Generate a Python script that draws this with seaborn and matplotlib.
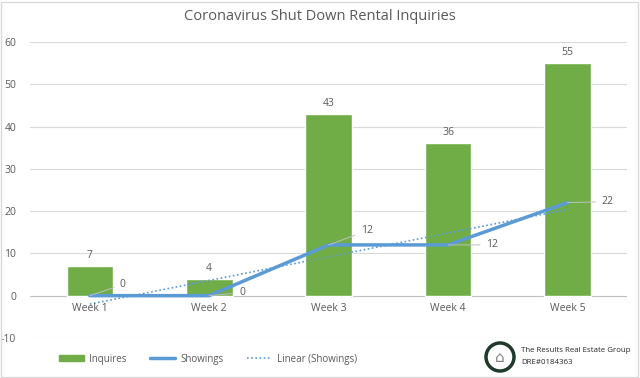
import numpy as np
import pandas as pd
import matplotlib.pyplot as plt
import seaborn as sns
from matplotlib.patches import Circle, Rectangle, Patch
from matplotlib.lines import Line2D

# chart values
weeks = ['Week 1', 'Week 2', 'Week 3', 'Week 4', 'Week 5']
inquires = [7, 4, 43, 36, 55]
showings = [0, 0, 12, 12, 22]
yticks = [-10, 0, 10, 20, 30, 40, 50, 60]

# label offsets for showings labels (pixels)
label_offsets = [(30, 11), (30, 3), (32, 14), (38, 0), (34, 1)]

green = '#70AD47'
blue = '#5B9BD5'
gray = '#595959'

sns.set_theme(style='white')
plt.rcParams['font.family'] = ['Open Sans', 'DejaVu Sans']

df = pd.DataFrame({'Week': weeks, 'Inquires': inquires, 'Showings': showings})

fig = plt.figure(figsize=(6.4, 3.78), dpi=100)
ax = fig.add_axes([0.047, 0.106, 0.933, 0.783])

sns.barplot(data=df, x='Week', y='Inquires', color=green, width=0.39,
            saturation=1, ax=ax, zorder=2)

xs = np.arange(len(weeks))
sns.lineplot(x=xs, y=showings, color=blue, linewidth=2.5, ax=ax, zorder=3)

# linear trendline of showings
coef = np.polyfit(xs, showings, 1)
trend = np.polyval(coef, xs)
ax.plot(xs, trend, color=blue, linestyle=(0, (1, 1.5)), linewidth=1.2, zorder=3)

ax.set_ylim(-10, 60)
ax.set_xlim(-0.5, 4.5)
ax.set_yticks(yticks)
ax.set_yticklabels([str(t) for t in yticks], color=gray, fontsize=7.5)
ax.tick_params(axis='y', length=0, pad=10)
ax.set_xticks([])
ax.set_xlabel('')
ax.set_ylabel('')
for s in ax.spines.values():
    s.set_visible(False)
for t in yticks:
    ax.axhline(t, color='#D9D9D9' if t != 0 else '#BFBFBF', linewidth=0.8, zorder=1)

# category labels at zero line
for i, w in enumerate(weeks):
    ax.annotate(w, (i, 0), xytext=(0, -7), textcoords='offset pixels',
                ha='center', va='top', fontsize=7.5, color=gray)

# bar value labels
for i, v in enumerate(inquires):
    ax.annotate(str(v), (i, v), xytext=(0, 5), textcoords='offset pixels',
                ha='center', va='bottom', fontsize=7.5, color=gray)

# showings value labels with leader lines
for i, (v, off) in enumerate(zip(showings, label_offsets)):
    ax.annotate(str(v), (i, v), xytext=off, textcoords='offset pixels',
                ha='left', va='center', fontsize=7.5, color=gray,
                arrowprops=dict(arrowstyle='-', color='#BFBFBF', lw=0.7,
                                shrinkA=2, shrinkB=0), zorder=4)

fig.suptitle('Coronavirus Shut Down Rental Inquiries', y=0.975, fontsize=10.5,
             color=gray)

handles = [Patch(color=green, label='Inquires'),
           Line2D([], [], color=blue, lw=2.5, label='Showings'),
           Line2D([], [], color=blue, lw=1.2, linestyle=(0, (1, 1.5)),
                  label='Linear (Showings)')]
leg = fig.legend(handles=handles, loc='center', bbox_to_anchor=(0.325, 0.05),
                 ncol=3, frameon=False, fontsize=7, handlelength=2.6,
                 columnspacing=2.4, handleheight=0.6, handletextpad=0.5)
for t in leg.get_texts():
    t.set_color(gray)

# logo and company text
cx, cy = 500 / 640, 1 - 357 / 378
logo = Circle((500, 378 - 357), 14, transform=None,
              facecolor='white', edgecolor='#1F3A2B', lw=2.5)
fig.patches.append(logo)
fig.text(cx, cy, '⌂', ha='center', va='center', fontsize=11, color='#7F7F7F',
         family='DejaVu Sans')
fig.text(521 / 640, 1 - 350 / 378, 'The Results Real Estate Group',
         fontsize=5.7, color='#262626', va='center')
fig.text(521 / 640, 1 - 363 / 378, 'DRE#0184363',
         fontsize=5.7, color='#262626', va='center')

fig.patches.append(Rectangle((0.002, 0.003), 0.995, 0.993, transform=fig.transFigure,
                             fill=False, edgecolor='#D9D9D9', lw=1))

fig.savefig('out.png', dpi=100)
